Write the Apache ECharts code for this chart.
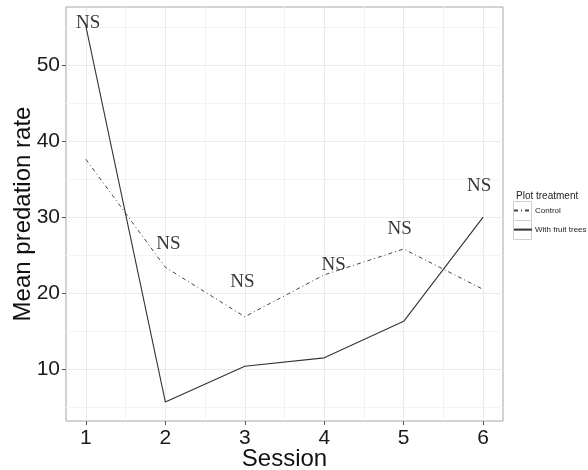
<!DOCTYPE html>
<html>
<head>
<meta charset="utf-8">
<script src="https://cdn.jsdelivr.net/npm/echarts@6/dist/echarts.min.js"></script>
<style>html,body{margin:0;padding:0;background:#fff}#main{width:588px;height:470px}</style>
</head>
<body>
<div id="main"></div>
<script>
// values
var sessions = [1, 2, 3, 4, 5, 6];
var control = [37.6, 23.4, 16.9, 22.4, 25.8, 20.5];
var fruitTrees = [55.1, 5.7, 10.4, 11.5, 16.3, 30.0];
// "NS" annotations (data coords)
var nsX = [1.03, 2.04, 2.97, 4.12, 4.95, 5.95];
var nsY = [55.7, 26.7, 21.7, 23.9, 28.7, 34.3];
var yTicks = [10, 20, 30, 40, 50];
var yMinor = [5, 15, 25, 35, 45, 55];
var xMinor = [1.5, 2.5, 3.5, 4.5, 5.5];

var chart = echarts.init(document.getElementById('main'));
var sans = 'Liberation Sans, Arial, sans-serif';

function pairs(xs, ys) {
  return xs.map(function (x, i) { return [x, ys[i]]; });
}

function legendRow(name, top) {
  return {
    orient: 'vertical',
    left: 513, top: top,
    itemWidth: 18, itemHeight: 19, itemGap: 0,
    padding: 0,
    data: [name],
    itemStyle: { color: 'rgba(0,0,0,0)', borderWidth: 0 },
    textStyle: { fontFamily: sans, fontSize: 8, color: '#222', padding: [0, 0, 0, -2] }
  };
}

var option = {
  backgroundColor: '#fff',
  animation: false,
  title: {
    text: 'Plot treatment',
    left: 511, top: 186,
    textStyle: { fontFamily: sans, fontSize: 10, fontWeight: 'normal', color: '#222' }
  },
  legend: [legendRow('Control', 203), legendRow('With fruit trees', 222)],
  graphic: [
    { type: 'rect', shape: { x: 513.5, y: 201.5, width: 18, height: 19 }, style: { fill: 'none', stroke: '#cfcfcf', lineWidth: 1 }, z: -1 },
    { type: 'rect', shape: { x: 513.5, y: 220.5, width: 18, height: 19 }, style: { fill: 'none', stroke: '#cfcfcf', lineWidth: 1 }, z: -1 }
  ],
  grid: {
    left: 66, top: 7, right: 85, bottom: 49,
    outerBoundsMode: 'none',
    show: true, borderColor: '#a6a6a6', borderWidth: 1, backgroundColor: '#fff'
  },
  xAxis: [{
    type: 'value', min: 0.75, max: 6.25,
    name: 'Session', nameLocation: 'middle', nameGap: 26, nameMoveOverlap: false,
    nameTextStyle: { fontFamily: sans, fontSize: 24, color: '#111' },
    axisLine: { show: false },
    axisTick: { show: true, length: 4, customValues: sessions, lineStyle: { color: '#555' } },
    axisLabel: { customValues: sessions, fontFamily: sans, fontSize: 21, color: '#1a1a1a', margin: 7 },
    splitLine: { show: true, lineStyle: { color: '#ebebeb', width: 1 } }
  }, {
    type: 'value', min: 0.75, max: 6.25, position: 'bottom',
    axisLine: { show: false },
    axisTick: { show: false, customValues: xMinor },
    axisLabel: { show: false },
    splitLine: { show: true, lineStyle: { color: '#f3f3f3', width: 1 } }
  }],
  yAxis: [{
    type: 'value', min: 3.2, max: 57.6,
    name: 'Mean predation rate', nameLocation: 'middle', nameGap: 31, nameMoveOverlap: false,
    nameTextStyle: { fontFamily: sans, fontSize: 24, color: '#111' },
    axisLine: { show: false },
    axisTick: { show: true, length: 4, customValues: yTicks, lineStyle: { color: '#555' } },
    axisLabel: { customValues: yTicks, fontFamily: sans, fontSize: 21, color: '#1a1a1a', margin: 6 },
    splitLine: { show: true, lineStyle: { color: '#ebebeb', width: 1 } }
  }, {
    type: 'value', min: 3.2, max: 57.6, position: 'left',
    axisLine: { show: false },
    axisTick: { show: false, customValues: yMinor },
    axisLabel: { show: false },
    splitLine: { show: true, lineStyle: { color: '#f3f3f3', width: 1 } }
  }],
  series: [{
    name: 'Control',
    type: 'line',
    data: pairs(sessions, control),
    symbol: 'none',
    itemStyle: { color: '#444' },
    lineStyle: { color: '#444', width: 1, type: [4, 3, 1, 3] },
    z: 3
  }, {
    name: 'With fruit trees',
    type: 'line',
    data: pairs(sessions, fruitTrees),
    symbol: 'none',
    itemStyle: { color: '#333' },
    lineStyle: { color: '#333', width: 1.1 },
    z: 3
  }, {
    name: 'NS',
    type: 'scatter',
    data: pairs(nsX, nsY),
    symbolSize: 1,
    itemStyle: { color: 'rgba(0,0,0,0)' },
    label: {
      show: true, position: 'inside', formatter: 'NS', offset: [0, 2],
      fontFamily: 'Liberation Serif, Times New Roman, serif', fontSize: 19, color: '#000'
    },
    z: 5
  }]
};

chart.setOption(option);
</script>
</body>
</html>
